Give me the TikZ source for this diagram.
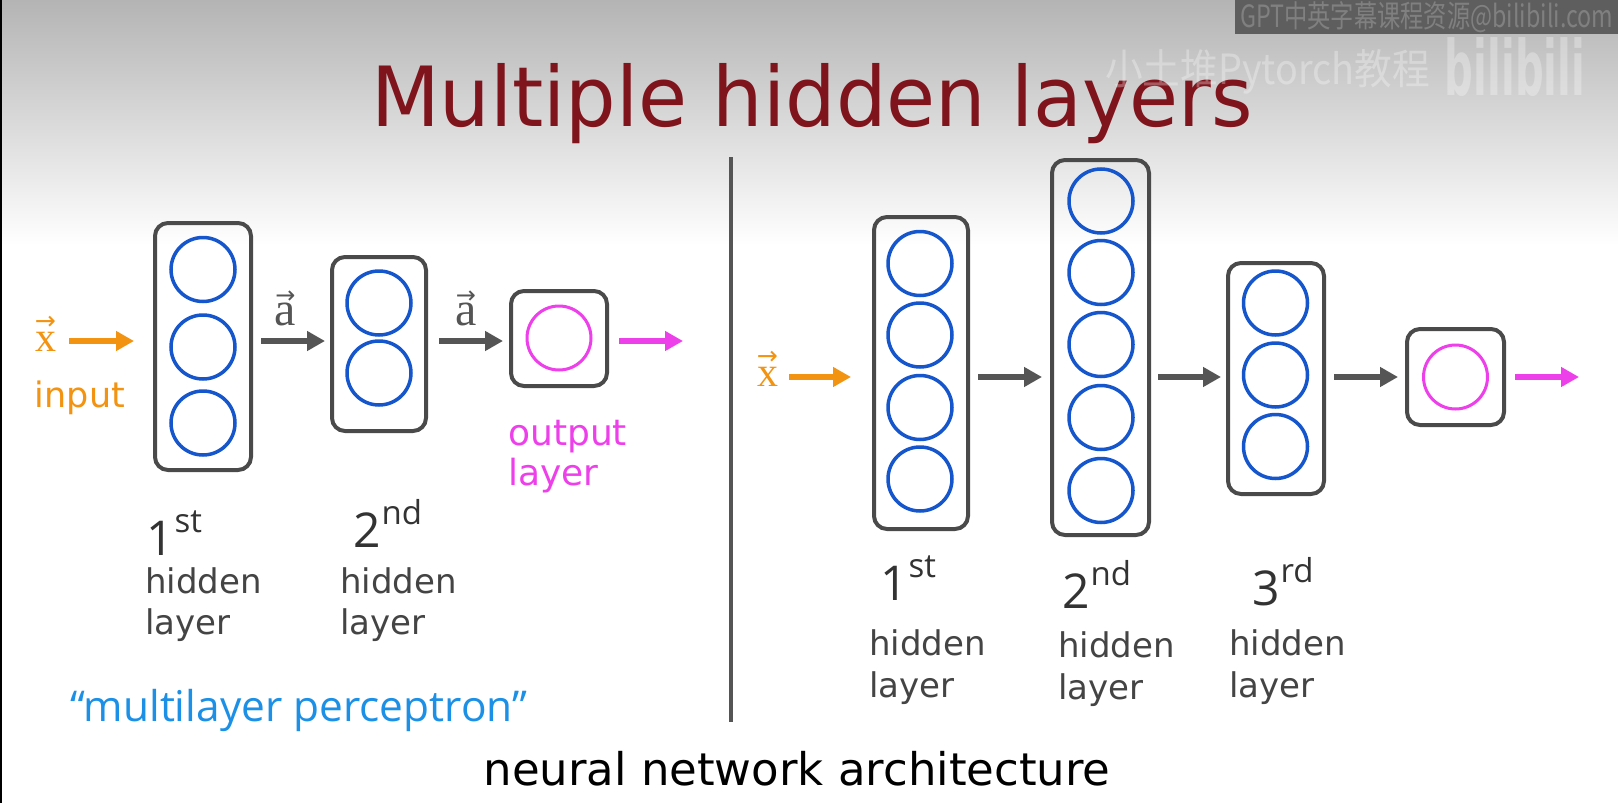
\documentclass[tikz,border=0pt]{standalone}
\usepackage{fontspec}
\usepackage{graphicx}
\usetikzlibrary{arrows.meta}
\setmainfont{DejaVu Sans}
\newfontfamily\titlefnt[FakeStretch=0.96]{DejaVu Sans}
\newfontfamily\handfnt{Open Sans}
\newfontfamily\serfnt{Liberation Serif}
\newfontfamily\arrfnt{DejaVu Sans}
\newfontfamily\cjkfnt{Noto Sans CJK SC}
\definecolor{boxgray}{RGB}{74,74,74}
\definecolor{arrgray}{RGB}{85,85,85}
\definecolor{neublue}{RGB}{22,86,204}
\definecolor{pinkc}{RGB}{238,64,234}
\definecolor{orangec}{RGB}{243,147,18}
\definecolor{handblue}{RGB}{28,144,230}
\definecolor{labelgray}{RGB}{68,68,68}
\definecolor{handgray}{RGB}{51,51,51}
\definecolor{titlered}{RGB}{128,20,28}
\definecolor{divgray}{RGB}{85,85,85}
\definecolor{topgray}{RGB}{180,180,180}
\definecolor{wmbox}{RGB}{94,94,94}
\definecolor{wmtext}{RGB}{128,128,128}
\newcommand{\vecsym}[3]{\ooalign{#3\cr\hidewidth\raisebox{#1}{\scalebox{#2}{\arrfnt →}}\hidewidth\cr}}
\tikzset{
 lbox/.style={draw=boxgray, line width=4pt, rounded corners=13pt, inner sep=0pt},
 neu/.style={circle, draw=neublue, line width=3.5pt, minimum size=64pt, inner sep=0pt},
 outneu/.style={circle, draw=pinkc, line width=3pt, minimum size=64pt, inner sep=0pt},
 garr/.style={draw=arrgray, line width=6.5pt, -{Triangle[length=18pt,width=19pt]}},
 oarr/.style={garr, draw=orangec},
 parr/.style={garr, draw=pinkc, line width=5.5pt},
 lbl/.style={inner sep=0pt, anchor=base west, text=labelgray, font=\fontsize{34}{40}\selectfont},
 ord/.style={inner sep=0pt, anchor=base west, text=handgray, font=\handfnt},
 vlbl/.style={inner sep=0pt, anchor=base, font=\serfnt},
}
\newcommand{\ordtxt}[2]{{\fontsize{48}{48}\selectfont #1}\kern1pt\raisebox{23pt}{\fontsize{33}{33}\selectfont #2}}
\begin{document}
\begin{tikzpicture}[x=1pt,y=-1pt]
\useasboundingbox (0,0) rectangle (1618,803);
% background
\fill[white] (0,0) rectangle (1618,803);
\shade[top color=topgray, bottom color=white] (0,0) rectangle (1618,245);
\draw[black, line width=1.5pt] (0.75,0) -- (0.75,803);
% title
\node[anchor=base, text=titlered, inner sep=0pt] (title) at (812,126) {\titlefnt\fontsize{83}{83}\selectfont Multiple hidden layers};
% watermarks
\fill[wmbox] (1235,0) rectangle (1618,34);
\node[anchor=west, inner sep=0pt, text=wmtext] (wm1) at (1240,17) {\resizebox{373pt}{26pt}{\cjkfnt GPT中英字幕课程资源@bilibili.com}};
\node[anchor=west, inner sep=0pt, text=white, opacity=0.3] (wm2) at (1105,72) {\resizebox{325pt}{35pt}{\cjkfnt 小土堆Pytorch教程}};
\node[inner sep=0pt, text=white, opacity=0.3] (wm3) at (1515,67) {\resizebox{140pt}{58pt}{\bfseries bilibili}};
% divider
\draw[divgray, line width=4pt] (731,157) -- (731,722);
% ---------- left network ----------
\coordinate (rowL) at (0,341);
\node[vlbl, text=orangec] (xL) at (45.5,351) {\fontsize{42}{42}\selectfont\vecsym{0.52em}{0.6}{x}};
\node[lbox, minimum width=96pt, minimum height=247pt] (L1) at (203,346.5) {};
\node[neu] (L1a) at (203,269.5) {};
\node[neu] (L1b) at (203,347) {};
\node[neu] (L1c) at (203,423) {};
\node[lbox, minimum width=94pt, minimum height=174pt] (L2) at (379,344) {};
\node[neu] (L2a) at (379,303) {};
\node[neu] (L2b) at (379,373) {};
\node[lbox, minimum width=96pt, minimum height=95pt] (LO) at (559,338.5) {};
\node[outneu] (LOa) at (559,338) {};
\coordinate (outL) at (683,341);
\draw[oarr, shorten <=13pt, shorten >=19pt] (xL.east |- rowL) -- (L1.west |- rowL);
\draw[garr, shorten <=8pt, shorten >=5pt] (L1.east |- rowL) -- (L2.west |- rowL);
\draw[garr, shorten <=11pt, shorten >=6pt] (L2.east |- rowL) -- (LO.west |- rowL);
\draw[parr, shorten <=10pt] (LO.east |- rowL) -- (outL);
\node[vlbl, text=arrgray] (aL1) at (285.5,325) {\fontsize{48}{48}\selectfont\vecsym{0.45em}{0.5}{a}};
\node[vlbl, text=arrgray] (aL2) at (466,325) {\fontsize{48}{48}\selectfont\vecsym{0.45em}{0.5}{a}};
\node[inner sep=0pt, anchor=base, text=orangec, font=\fontsize{35}{40}\selectfont] (inp) at (80,407) {input};
\node[inner sep=0pt, anchor=base west, text=pinkc, font=\fontsize{36}{40}\selectfont] (outt1) at (508,445) {output};
\node[inner sep=0pt, anchor=base west, text=pinkc, font=\fontsize{36}{40}\selectfont] (outt2) at (508,485) {layer};
\node[ord] (o1L) at (146,555) {\ordtxt{1}{st}};
\node[ord] (o2L) at (353,547) {\ordtxt{2}{nd}};
\node[lbl] (h1L) at (145,593) {hidden};
\node[lbl] (y1L) at (145,634) {layer};
\node[lbl] (h2L) at (340,593) {hidden};
\node[lbl] (y2L) at (340,634) {layer};
\node[inner sep=0pt, anchor=base west, text=handblue] (mlp) at (70,721) {\resizebox{457pt}{!}{\handfnt\fontsize{38}{40}\selectfont “multilayer perceptron”}};
% ---------- right network ----------
\coordinate (rowR) at (0,377);
\node[vlbl, text=orangec] (xR) at (767.5,386) {\fontsize{42}{42}\selectfont\vecsym{0.52em}{0.6}{x}};
\node[lbox, minimum width=94pt, minimum height=312pt] (R1) at (921,373) {};
\node[neu] (R1a) at (920,263.5) {};
\node[neu] (R1b) at (920,335) {};
\node[neu] (R1c) at (920,407.5) {};
\node[neu] (R1d) at (920,479) {};
\node[lbox, minimum width=97pt, minimum height=375pt] (R2) at (1100.5,347.5) {};
\node[neu] (R2a) at (1101,201) {};
\node[neu] (R2b) at (1101,272.5) {};
\node[neu] (R2c) at (1101,344.5) {};
\node[neu] (R2d) at (1101,417.5) {};
\node[neu] (R2e) at (1101,490.5) {};
\node[lbox, minimum width=96pt, minimum height=231pt] (R3) at (1276,378.5) {};
\node[neu] (R3a) at (1275.5,303) {};
\node[neu] (R3b) at (1275.5,375) {};
\node[neu] (R3c) at (1275.5,446.5) {};
\node[lbox, minimum width=97pt, minimum height=96pt] (RO) at (1455.5,377) {};
\node[outneu] (ROa) at (1455.5,377) {};
\coordinate (outR) at (1579,377);
\draw[oarr, shorten <=11pt, shorten >=21pt] (xR.east |- rowR) -- (R1.west |- rowR);
\draw[garr, shorten <=8pt, shorten >=8pt] (R1.east |- rowR) -- (R2.west |- rowR);
\draw[garr, shorten <=7pt, shorten >=5pt] (R2.east |- rowR) -- (R3.west |- rowR);
\draw[garr, shorten <=8pt, shorten >=7pt] (R3.east |- rowR) -- (RO.west |- rowR);
\draw[parr, shorten <=9pt] (RO.east |- rowR) -- (outR);
\node[ord] (o1R) at (880,600) {\ordtxt{1}{st}};
\node[ord] (o2R) at (1062,608) {\ordtxt{2}{nd}};
\node[ord] (o3R) at (1252,605) {\ordtxt{3}{rd}};
\node[lbl] (h1R) at (869,655) {hidden};
\node[lbl] (y1R) at (869,697) {layer};
\node[lbl] (h2R) at (1058,657) {hidden};
\node[lbl] (y2R) at (1058,699) {layer};
\node[lbl] (h3R) at (1229,655) {hidden};
\node[lbl] (y3R) at (1229,697) {layer};
% caption
\node[inner sep=0pt, anchor=base, text=black, font=\fontsize{45}{50}\selectfont] (cap) at (797,785) {neural network architecture};
\end{tikzpicture}
\end{document}
